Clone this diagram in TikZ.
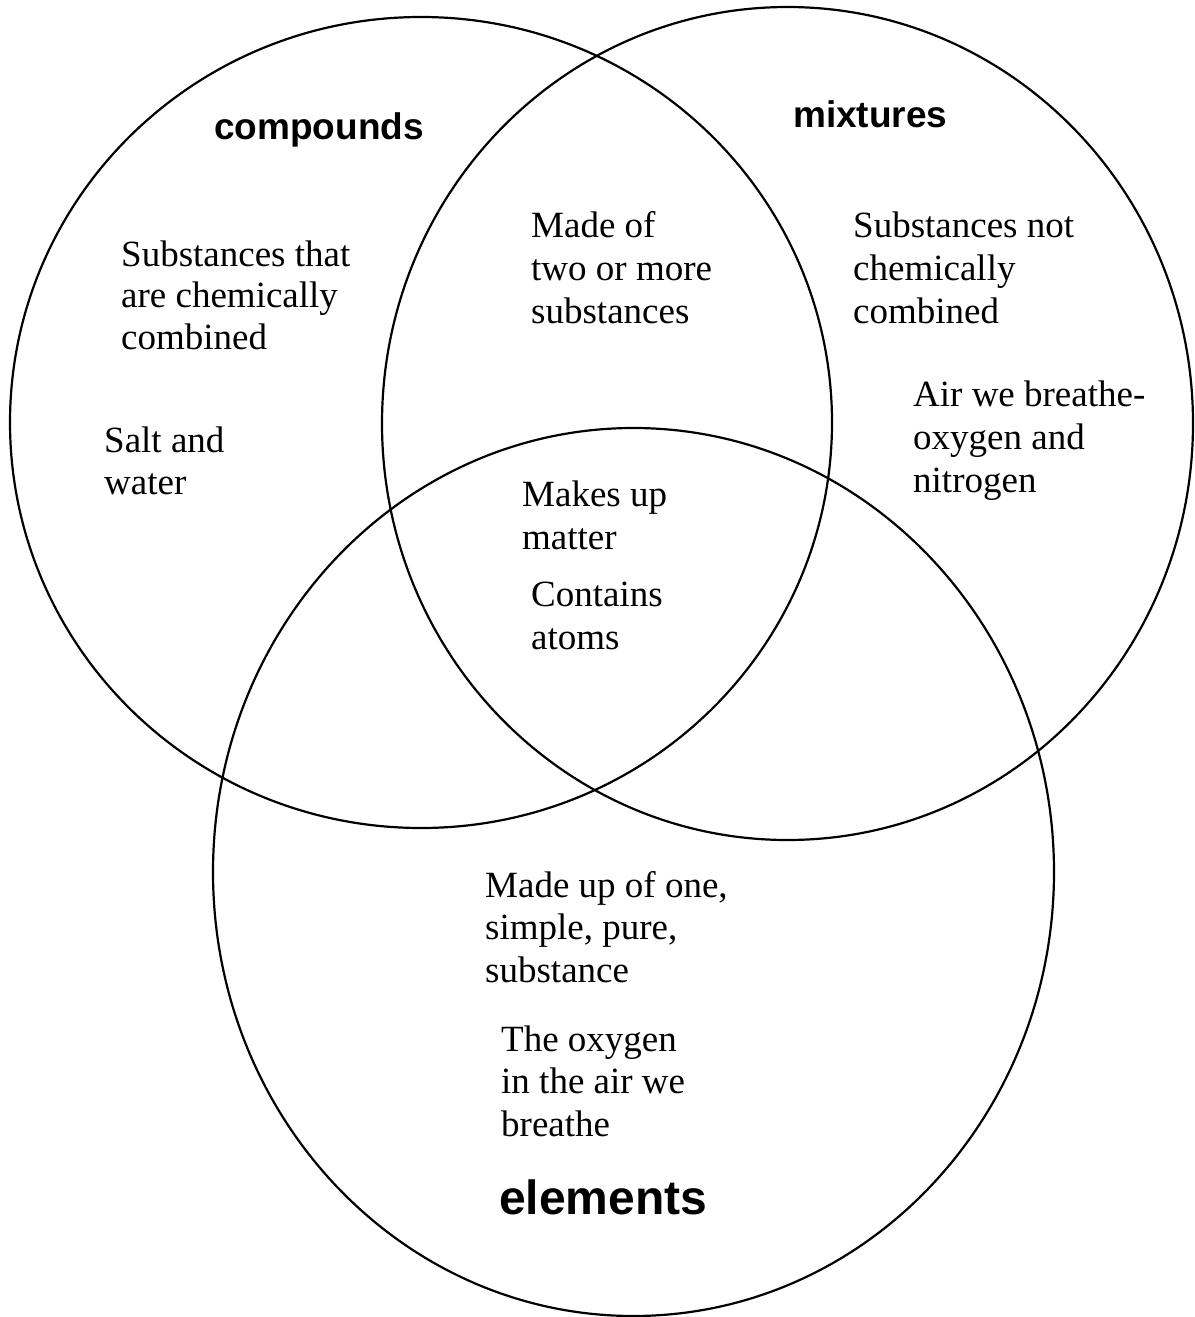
\documentclass[tikz,border=0pt]{standalone}
\usepackage{fontspec}
\setmainfont{Liberation Serif}
\newfontfamily\headfont{Liberation Sans}
\begin{document}
\begin{tikzpicture}[x=1pt,y=-1pt,
  ring/.style={draw=black,line width=2.2pt},
  body/.style={anchor=base west,inner sep=0pt,font=\fontsize{37}{42.5}\selectfont},
  title/.style={anchor=base west,inner sep=0pt,font=\headfont\bfseries\fontsize{37}{42}\selectfont},
  bigtitle/.style={anchor=base west,inner sep=0pt,font=\headfont\bfseries\fontsize{48}{54}\selectfont}]
\useasboundingbox[fill=white] (0,0) rectangle (1194,1317);

% the three sets
\draw[ring] (421,422.5) ellipse [x radius=411pt, y radius=405.5pt];
\draw[ring] (787.5,423.5) ellipse [x radius=405.5pt, y radius=416.5pt];
\draw[ring] (633.5,872) ellipse [x radius=420.5pt, y radius=444pt];
% small break in the lower ring
\fill[white] (889,503) rectangle (899,513);

% set names
\node[title] (compounds) at (214,139) {compounds};
\node[title] (mixtures) at (793,127) {mixtures};
\node[bigtitle] (elements) at (499,1214) {elements};

% compounds only
\node[body] (c1) at (121,266) {Substances that};
\node[body] (c2) at (121,307.5) {are chemically};
\node[body] (c3) at (121,349) {combined};
\node[body] (c4) at (104,452) {Salt and};
\node[body] (c5) at (104,494) {water};

% compounds and mixtures
\node[body] (cm1) at (531,237) {Made of};
\node[body] (cm2) at (531,280) {two or more};
\node[body] (cm3) at (531,323) {substances};

% mixtures only
\node[body] (m1) at (853,237) {Substances not};
\node[body] (m2) at (853,280) {chemically};
\node[body] (m3) at (853,323) {combined};
\node[body] (m4) at (913,406) {Air we breathe-};
\node[body] (m5) at (913,449) {oxygen and};
\node[body] (m6) at (913,492) {nitrogen};

% all three
\node[body] (a1) at (522,506) {Makes up};
\node[body] (a2) at (522,549) {matter};
\node[body] (a3) at (531,606) {Contains};
\node[body] (a4) at (531,649) {atoms};

% elements only
\node[body] (e1) at (485,897) {Made up of one,};
\node[body] (e2) at (485,939.5) {simple, pure,};
\node[body] (e3) at (485,982) {substance};
\node[body] (e4) at (501,1051) {The oxygen};
\node[body] (e5) at (501,1093.5) {in the air we};
\node[body] (e6) at (501,1136) {breathe};
\end{tikzpicture}
\end{document}
